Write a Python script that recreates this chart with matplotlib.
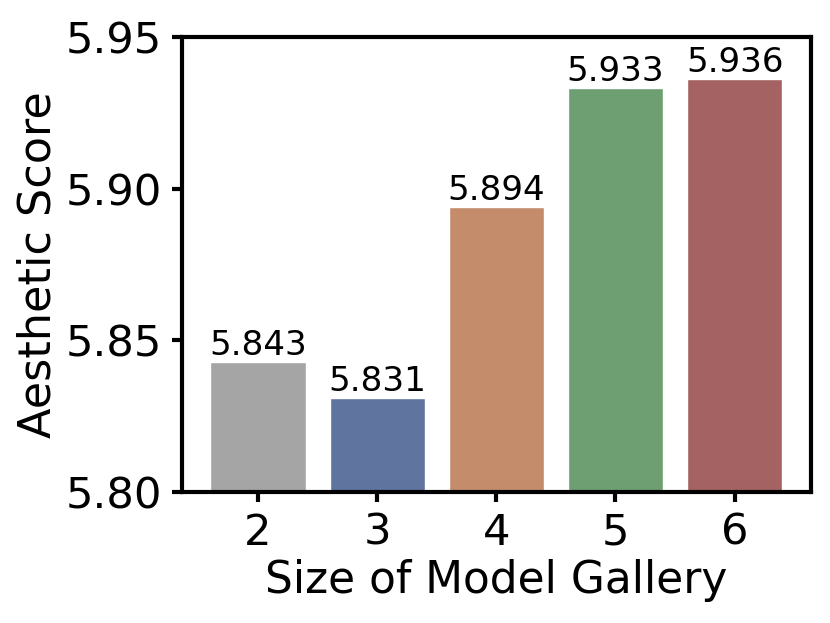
import matplotlib
matplotlib.use("Agg")
import matplotlib.pyplot as plt
import numpy as np

gallery_sizes = ["2", "3", "4", "5", "6"]
scores = [5.843, 5.831, 5.894, 5.933, 5.936]
bar_colors = ["#a5a5a5", "#6074a0", "#c48c6a", "#6e9f72", "#a56262"]

plt.rcParams["font.family"] = "DejaVu Sans"

fig = plt.figure(figsize=(4.15, 3.115), dpi=200)
ax = fig.add_axes([0.219, 0.210, 0.758, 0.731])

x = np.arange(len(gallery_sizes))
bars = ax.bar(x, scores, width=0.8, color=bar_colors, edgecolor="white", linewidth=0.5)
ax.bar_label(bars, labels=["%.3f" % s for s in scores], fontsize=12.3, padding=0)

ax.set_xticks(x)
ax.set_xticklabels(gallery_sizes)
ax.set_ylim(5.80, 5.95)
ax.set_yticks([5.80, 5.85, 5.90, 5.95])
ax.set_yticklabels(["5.80", "5.85", "5.90", "5.95"])
ax.tick_params(labelsize=15.6, width=1.5, length=3.6)
for sp in ax.spines.values():
    sp.set_linewidth(1.5)

ax.set_xlabel("Size of Model Gallery", fontsize=15.8, labelpad=2)
ax.set_ylabel("Aesthetic Score", fontsize=16, labelpad=2)

fig.savefig("out.png", dpi=200)
